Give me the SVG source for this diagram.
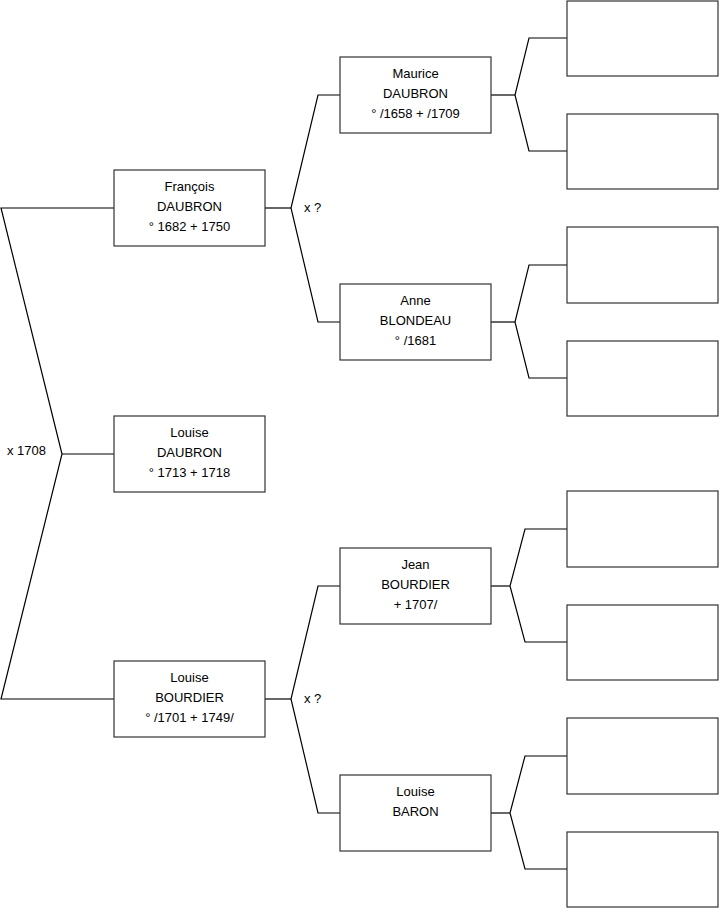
<svg xmlns="http://www.w3.org/2000/svg" width="719" height="908" viewBox="0 0 719 908">
<style>
.box{fill:#fff;stroke:#333;stroke-width:1.2}
.ln{fill:none;stroke:#000;stroke-width:1.2}
text{font-family:"Liberation Sans",Arial,sans-serif;font-size:13px;fill:#000}
.c{text-anchor:middle}
</style>
<rect width="719" height="908" fill="#fff"/>
<g id="connectors">
<polyline class="ln" points="114,208 1,208 62,454 1,699 114,699"/>
<line class="ln" x1="62" y1="454" x2="114" y2="454"/>
<polyline class="ln" points="340,95 318,95 291,208 318,322 340,322"/>
<line class="ln" x1="265" y1="208" x2="291" y2="208"/>
<polyline class="ln" points="340,586 318,586 291,699 318,813 340,813"/>
<line class="ln" x1="265" y1="699" x2="291" y2="699"/>
<polyline class="ln" points="567,38 529,38 515,95 529,151 567,151"/>
<line class="ln" x1="491" y1="95" x2="515" y2="95"/>
<polyline class="ln" points="567,265 529,265 515,322 529,378 567,378"/>
<line class="ln" x1="491" y1="322" x2="515" y2="322"/>
<polyline class="ln" points="567,529 525,529 510,586 525,642 567,642"/>
<line class="ln" x1="491" y1="586" x2="510" y2="586"/>
<polyline class="ln" points="567,756 525,756 510,813 525,869 567,869"/>
<line class="ln" x1="491" y1="813" x2="510" y2="813"/>
<text x="7" y="455">x 1708</text>
<text x="304" y="212">x ?</text>
<text x="304" y="703">x ?</text>
</g>
<g id="francois"><rect class="box" x="114" y="170" width="151" height="76"/>
<text class="c" x="189.5" y="191">François</text><text class="c" x="189.5" y="211">DAUBRON</text><text class="c" x="189.5" y="231">° 1682 + 1750</text></g>
<g id="louise-daubron"><rect class="box" x="114" y="416" width="151" height="76"/>
<text class="c" x="189.5" y="437">Louise</text><text class="c" x="189.5" y="457">DAUBRON</text><text class="c" x="189.5" y="477">° 1713 + 1718</text></g>
<g id="louise-bourdier"><rect class="box" x="114" y="661" width="151" height="76"/>
<text class="c" x="189.5" y="682">Louise</text><text class="c" x="189.5" y="702">BOURDIER</text><text class="c" x="189.5" y="722">° /1701 + 1749/</text></g>
<g id="maurice"><rect class="box" x="340" y="57" width="151" height="76"/>
<text class="c" x="415.5" y="78">Maurice</text><text class="c" x="415.5" y="98">DAUBRON</text><text class="c" x="415.5" y="118">° /1658 + /1709</text></g>
<g id="anne"><rect class="box" x="340" y="284" width="151" height="76"/>
<text class="c" x="415.5" y="305">Anne</text><text class="c" x="415.5" y="325">BLONDEAU</text><text class="c" x="415.5" y="345">° /1681</text></g>
<g id="jean"><rect class="box" x="340" y="548" width="151" height="76"/>
<text class="c" x="415.5" y="569">Jean</text><text class="c" x="415.5" y="589">BOURDIER</text><text class="c" x="415.5" y="609">+ 1707/</text></g>
<g id="louise-baron"><rect class="box" x="340" y="775" width="151" height="76"/>
<text class="c" x="415.5" y="796">Louise</text><text class="c" x="415.5" y="816">BARON</text></g>
<g id="g1"><rect class="box" x="567" y="1" width="151" height="75"/></g>
<g id="g2"><rect class="box" x="567" y="114" width="151" height="75"/></g>
<g id="g3"><rect class="box" x="567" y="227" width="151" height="76"/></g>
<g id="g4"><rect class="box" x="567" y="341" width="151" height="75"/></g>
<g id="g5"><rect class="box" x="567" y="491" width="151" height="76"/></g>
<g id="g6"><rect class="box" x="567" y="605" width="151" height="75"/></g>
<g id="g7"><rect class="box" x="567" y="718" width="151" height="76"/></g>
<g id="g8"><rect class="box" x="567" y="832" width="151" height="75"/></g>
</svg>
